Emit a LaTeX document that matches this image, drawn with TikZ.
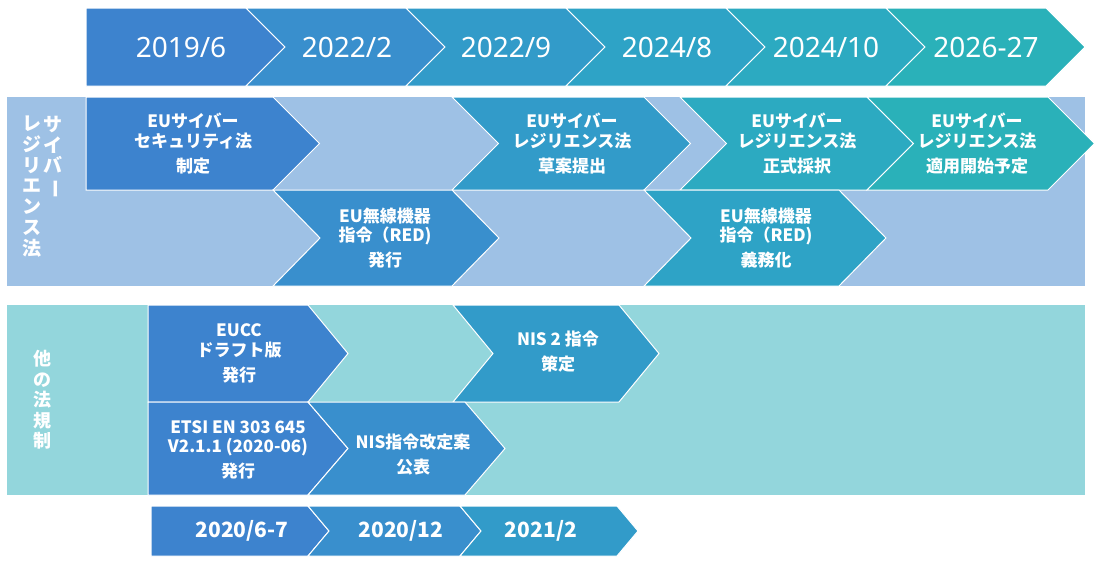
\documentclass[tikz,border=0pt]{standalone}
\usepackage{graphicx}
\usepackage{fontspec}
\setmainfont{Noto Sans}
\newfontfamily\jp{Noto Sans CJK JP}
\usetikzlibrary{calc,
	positioning}
\definecolor{c1}{RGB}{61,131,206}
\definecolor{c2}{RGB}{57,143,205}
\definecolor{c3}{RGB}{50,155,201}
\definecolor{c4}{RGB}{46,163,198}
\definecolor{c5}{RGB}{44,170,193}
\definecolor{c6}{RGB}{42,177,185}
\definecolor{bgcyber}{RGB}{158,193,229}
\definecolor{bgother}{RGB}{147,214,220}
\tikzstyle{chev}=[draw=white, line width=1pt, line join=miter]
\tikzstyle{dt}=[text=white, inner sep=0, font=\fontsize{28}{32}\selectfont]
\tikzstyle{ev}=[text=white, align=center, inner sep=0,
		font=\jp\bfseries\fontsize{17}{19.5}\selectfont]
\tikzstyle{sd}=[text=white, inner sep=0, font=\jp\bfseries\fontsize{21}{24}\selectfont]
\tikzstyle{vl}=[text=white, align=center, inner sep=0,
		font=\jp\bfseries\fontsize{19}{20.7}\selectfont]
\newcommand{\vbar}{\rotatebox[origin=c]{-90}{ー}}
% [notch] left, body end, top, bottom, depth, colour
\newcommand{\chevron}[7][1]{%
	\draw[chev, fill=#7] (#2,#4) -- (#3,#4) -- ++(#6,{(#5-#4)/2}) -- (#3,#5)
		-- (#2,#5) -- ++({#1*#6},{(#4-#5)/2}) -- cycle;}

\begin{document}
\begin{tikzpicture}[x=1pt, y=-1pt]
        \useasboundingbox (0,0) rectangle (1096,568);
        % timeline
        \chevron[0]{86}{246}{8}{86}{39}{c1}
        \chevron{246}{406}{8}{86}{39}{c2}
        \chevron{406}{566}{8}{86}{39}{c3}
        \chevron{566}{726}{8}{86}{39}{c4}
        \chevron{726}{886}{8}{86}{39}{c5}
        \chevron{886}{1046}{8}{86}{39}{c6}
        \node[dt] (d1) at (181,47) {2019/6};
        \node[dt] (d2) at (347,47) {2022/2};
        \node[dt] (d3) at (506,47) {2022/9};
        \node[dt] (d4) at (667,47) {2024/8};
        \node[dt] (d5) at (826,47) {2024/10};
        \node[dt] (d6) at (986,47) {2026-27};
        % cyber resilience
        \fill[bgcyber] (7,97) rectangle (1085,286);
        \node[vl, anchor=north] (cyb1) at (53,116) {サ\\イ\\バ\\\vbar};
        \node[vl, anchor=north] (cyb2) at (32,116) {レ\\ジ\\リ\\エ\\ン\\ス\\法};
        \chevron[0]{86}{273}{97}{190}{46.5}{c1}
        \chevron{452}{644}{97}{190}{46.5}{c3}
        \chevron{680}{867}{97}{190}{46.5}{c5}
        \chevron{867}{1048}{97}{190}{46.5}{c6}
        \chevron{273}{452}{190}{286}{47}{c2}
        \chevron{644}{839}{190}{286}{47}{c4}
        \node[ev] (csa) at (193,143.5) {EUサイバー\\セキュリティ法\\[5.5pt]制定};
        \node[ev] (craa) at (572,143.5) {EUサイバー\\レジリエンス法\\[5.5pt]草案提出};
        \node[ev] (crab) at (797,143.5) {EUサイバー\\レジリエンス法\\[5.5pt]正式採択};
        \node[ev] (crac) at (977,143.5) {EUサイバー\\レジリエンス法\\[5.5pt]適用開始予定};
        \node[ev] (reda) at (385,238) {EU無線機器\\指令（RED)\\[5.5pt]発行};
        \node[ev] (redb) at (766,238) {EU無線機器\\指令（RED)\\[5.5pt]義務化};
        % other regulations
        \fill[bgother] (7,305) rectangle (1085,495);
        \node[vl, font=\jp\bfseries\fontsize{18}{20.5}\selectfont] (oth) at (43,400) {他\\の\\法\\規\\制};
        \chevron[0]{148}{308}{305}{402}{40}{c1}
        \chevron{453}{619}{305}{402}{40}{c3}
        \chevron[0]{148}{308}{402}{495}{40}{c1}
        \chevron{308}{465}{402}{495}{40}{c2}
        \node[ev] (eucc) at (239,353.5) {EUCC\\ドラフト版\\[5.5pt]発行};
        \node[ev] (nis2) at (558,352) {NIS 2 指令\\[5.5pt]策定};
        \node[ev] (etsi) at (238,450) {ETSI EN 303 645\\V2.1.1 (2020-06)\\[5.5pt]発行};
        \node[ev] (nisr) at (413,455) {NIS指令改定案\\[5.5pt]公表};
        % sub timeline
        \chevron[0]{151}{308}{506}{556}{21}{c1}
        \chevron{308}{460}{506}{556}{21}{c2}
        \chevron{460}{617}{506}{556}{21}{c3}
        \node[sd] (s1) at (242,531) {2020/6-7};
        \node[sd] (s2) at (401,531) {2020/12};
        \node[sd] (s3) at (541,531) {2021/2};
    \end{tikzpicture}
\end{document}
